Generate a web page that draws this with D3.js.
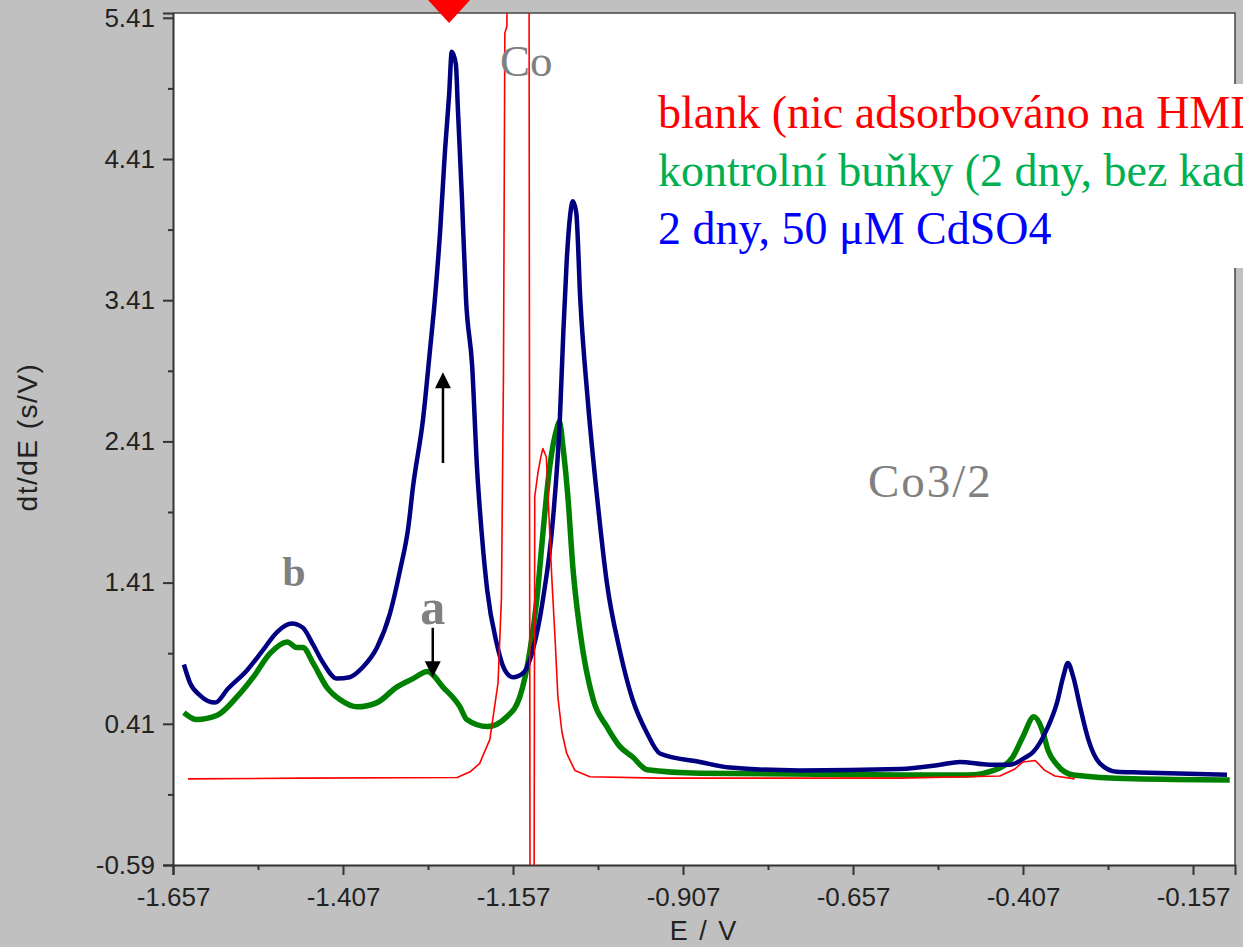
<!DOCTYPE html>
<html>
<head>
<meta charset="utf-8">
<script src="https://cdn.jsdelivr.net/npm/d3@7"></script>
<style>
  body { margin: 0; background: #c0c0c0; }
  svg { display: block; }
</style>
</head>
<body>
<div id="chart"></div>
<script>
// axis ticks
const xTicks = [-1.657, -1.407, -1.157, -0.907, -0.657, -0.407, -0.157]
const yTicks = [-0.59, 0.41, 1.41, 2.41, 3.41, 4.41, 5.41]

// blank (red)
const blankE = [-1.635, -1.470, -1.239, -1.220, -1.206, -1.191, -1.179, -1.174, -1.171, -1.169, -1.166, -1.165,
  -1.1335, -1.132, -1.126, -1.125, -1.120, -1.116, -1.113, -1.108, -1.106, -1.103, -1.100, -1.095, -1.091,
  -1.085, -1.078, -1.066, -1.044, -0.941, -0.588, -0.441, -0.419, -0.407, -0.389, -0.375, -0.360, -0.331]
const blankV = [0.02, 0.025, 0.03, 0.07, 0.13, 0.30, 0.70, 1.30, 2.90, 5.30, 5.35, 6.2,
  6.2, -0.8, -0.8, 2.02, 2.2, 2.3, 2.36, 2.3, 2.1, 1.76, 1.45, 1.0, 0.6,
  0.35, 0.2, 0.08, 0.035, 0.025, 0.025, 0.04, 0.09, 0.14, 0.15, 0.08, 0.04, 0.02]

// kontrolni bunky (green)
const controlE = [-1.641, -1.622, -1.592, -1.563, -1.539, -1.514, -1.489, -1.475, -1.466, -1.451, -1.431, -1.411,
  -1.386, -1.357, -1.328, -1.304, -1.283, -1.260, -1.235, -1.225, -1.195, -1.166, -1.147, -1.132, -1.122,
  -1.113, -1.103, -1.092, -1.089, -1.083, -1.076, -1.069, -1.058, -1.039, -1.019, -1.000, -0.981, -0.960,
  -0.882, -0.588, -0.489, -0.441, -0.422, -0.407, -0.391, -0.379, -0.370, -0.357, -0.333, -0.245, -0.103]
const controlV = [0.49, 0.44, 0.47, 0.60, 0.74, 0.91, 0.99, 0.95, 0.95, 0.84, 0.67, 0.58,
  0.53, 0.56, 0.67, 0.73, 0.78, 0.67, 0.53, 0.44, 0.39, 0.46, 0.60, 0.93, 1.29,
  1.76, 2.23, 2.51, 2.55, 2.35, 2.00, 1.52, 1.05, 0.58, 0.39, 0.25, 0.175, 0.085,
  0.06, 0.047, 0.047, 0.097, 0.175, 0.32, 0.46, 0.37, 0.22, 0.12, 0.047, 0.02, 0.012]

// 2 dny, 50 uM CdSO4 (blue)
const cdE = [-1.641, -1.632, -1.617, -1.595, -1.576, -1.548, -1.525, -1.504, -1.482, -1.466, -1.451, -1.436,
  -1.416, -1.397, -1.378, -1.357, -1.338, -1.323, -1.311, -1.304, -1.289, -1.279, -1.272, -1.264, -1.257,
  -1.251, -1.247, -1.241, -1.238, -1.232, -1.226, -1.217, -1.210, -1.203, -1.195, -1.181, -1.169, -1.157,
  -1.142, -1.128, -1.113, -1.098, -1.088, -1.083, -1.078, -1.073, -1.069, -1.064, -1.058, -1.047, -1.033,
  -1.019, -1.000, -0.981, -0.960, -0.941, -0.882, -0.838, -0.735, -0.588, -0.529, -0.500, -0.456, -0.426,
  -0.404, -0.392, -0.372, -0.357, -0.348, -0.341, -0.333, -0.323, -0.311, -0.294, -0.269, -0.235, -0.107]
const cdV = [0.83, 0.70, 0.61, 0.56, 0.66, 0.79, 0.93, 1.06, 1.12, 1.09, 0.97, 0.84,
  0.73, 0.74, 0.81, 0.95, 1.19, 1.50, 1.80, 2.09, 2.58, 3.06, 3.41, 3.91, 4.47,
  4.86, 5.17, 5.08, 4.76, 4.12, 3.41, 2.94, 2.23, 1.76, 1.36, 0.98, 0.79, 0.74,
  0.77, 0.93, 1.29, 1.87, 2.58, 3.18, 3.69, 4.01, 4.11, 4.03, 3.41, 2.70, 2.00,
  1.41, 0.93, 0.58, 0.345, 0.20, 0.14, 0.10, 0.08, 0.09, 0.12, 0.14, 0.12, 0.12,
  0.17, 0.21, 0.37, 0.56, 0.74, 0.84, 0.74, 0.53, 0.30, 0.13, 0.07, 0.065, 0.05]

const legendLabels = ['blank (nic adsorbováno na HMDE)', 'kontrolní buňky (2 dny, bez kadmia)', '2 dny, 50 μM CdSO4']
const legendColors = ['#ff0000', '#00b050', '#0000ff']

const width = 1243, height = 947
const plot = {left: 173, right: 1235, top: 13, bottom: 865}

const x = d3.scaleLinear()
  .domain([-1.657, -1.657 + (plot.right - plot.left) / 680])
  .range([plot.left, plot.right])
const y = d3.scaleLinear()
  .domain([-0.59, -0.59 + (plot.bottom - plot.top) / 141.2])
  .range([plot.bottom, plot.top])

const svg = d3.select('#chart').append('svg')
  .attr('width', width)
  .attr('height', height)

svg.append('rect')
  .attr('width', width).attr('height', height)
  .attr('fill', '#c0c0c0')

svg.append('rect')
  .attr('x', plot.left).attr('y', plot.top)
  .attr('width', plot.right - plot.left).attr('height', plot.bottom - plot.top)
  .attr('fill', '#fff')

svg.append('clipPath').attr('id', 'clip')
  .append('rect')
  .attr('x', plot.left).attr('y', plot.top)
  .attr('width', plot.right - plot.left).attr('height', plot.bottom - plot.top)

// axes (hyphen minus like the original software)
const fmt = p => d => d.toFixed(p)
const minorX = d3.range(xTicks.length - 1).map(i => (xTicks[i] + xTicks[i + 1]) / 2)
const minorY = d3.range(yTicks.length - 1).map(i => (yTicks[i] + yTicks[i + 1]) / 2)

const xAxis = svg.append('g')
  .attr('transform', `translate(0, ${plot.bottom})`)
  .call(d3.axisBottom(x).tickValues(xTicks).tickFormat(fmt(3)).tickSize(10).tickPadding(6))
svg.append('g')
  .attr('transform', `translate(0, ${plot.bottom})`)
  .call(d3.axisBottom(x).tickValues(minorX).tickFormat('').tickSize(5))
  .call(g => g.select('.domain').remove())

svg.append('g')
  .attr('transform', `translate(${plot.left}, 0)`)
  .call(d3.axisLeft(y).tickValues(yTicks).tickFormat(fmt(2)).tickSize(10).tickPadding(8))
svg.append('g')
  .attr('transform', `translate(${plot.left}, 0)`)
  .call(d3.axisLeft(y).tickValues(minorY).tickFormat('').tickSize(5))
  .call(g => g.select('.domain').remove())

svg.selectAll('.domain').attr('stroke', '#333').attr('stroke-width', 2)
svg.selectAll('.tick line').attr('stroke', '#333').attr('stroke-width', 2)
svg.selectAll('.tick text')
  .attr('fill', '#222')
  .style('font-family', '"Liberation Sans", Arial, sans-serif')
  .style('font-size', '26px')
xAxis.selectAll('.tick text').attr('dy', '0.95em')

// frame top / right
svg.append('path')
  .attr('d', `M${plot.left},${plot.top}H${plot.right}V${plot.bottom}`)
  .attr('fill', 'none')
  .attr('stroke', '#444')
  .attr('stroke-width', 1.5)

// axis titles
svg.append('text')
  .attr('x', (plot.left + plot.right) / 2)
  .attr('y', 940)
  .attr('text-anchor', 'middle')
  .attr('fill', '#222')
  .style('font-family', '"Liberation Sans", Arial, sans-serif')
  .style('font-size', '27px')
  .style('letter-spacing', '2px')
  .text('E / V')
svg.append('text')
  .attr('transform', 'translate(37, 437) rotate(-90)')
  .attr('text-anchor', 'middle')
  .attr('fill', '#222')
  .style('font-family', '"Liberation Sans", Arial, sans-serif')
  .style('font-size', '28px')
  .style('letter-spacing', '1.5px')
  .text('dt/dE (s/V)')

// curves
const series = [
  {E: controlE, V: controlV, color: '#008000', w: 5.5, curve: d3.curveMonotoneX},
  {E: cdE, V: cdV, color: '#000080', w: 4.5, curve: d3.curveMonotoneX},
  {E: blankE, V: blankV, color: '#ff0000', w: 1.6, curve: d3.curveLinear}
]
svg.append('g')
  .attr('clip-path', 'url(#clip)')
  .selectAll('path')
  .data(series)
  .enter().append('path')
  .attr('d', s => d3.line().curve(s.curve).x(d => x(d[0])).y(d => y(d[1]))(d3.zip(s.E, s.V)))
  .attr('fill', 'none')
  .attr('stroke', s => s.color)
  .attr('stroke-width', s => s.w)
  .attr('stroke-linejoin', 'round')

// annotations
const notes = [
  {t: 'Co', E: -1.176, v: 5.0, size: 45, bold: false, anchor: 'start', ls: 0},
  {t: 'Co3/2', E: -0.635, v: 2.016, size: 47, bold: false, anchor: 'start', ls: 2},
  {t: 'b', E: -1.479, v: 1.386, size: 42, bold: true, anchor: 'middle', ls: 0},
  {t: 'a', E: -1.275, v: 1.12, size: 50, bold: true, anchor: 'middle', ls: 0}
]
svg.append('g').selectAll('text')
  .data(notes)
  .enter().append('text')
  .attr('x', d => x(d.E))
  .attr('y', d => y(d.v))
  .attr('text-anchor', d => d.anchor)
  .attr('fill', '#808080')
  .style('font-family', '"Liberation Serif", "Times New Roman", serif')
  .style('font-weight', d => d.bold ? 'bold' : 'normal')
  .style('font-size', d => d.size + 'px')
  .style('letter-spacing', d => d.ls + 'px')
  .text(d => d.t)

const arrows = [
  {E: -1.260, from: 2.257, to: 2.90},
  {E: -1.275, from: 1.09, to: 0.74}
]
arrows.forEach(a => {
  const ax = x(a.E), y0 = y(a.from), y1 = y(a.to)
  const dir = y1 < y0 ? 1 : -1
  svg.append('line')
    .attr('x1', ax).attr('y1', y0)
    .attr('x2', ax).attr('y2', y1 + dir * 12)
    .attr('stroke', '#000').attr('stroke-width', 2.5)
  svg.append('path')
    .attr('d', `M${ax},${y1}L${ax - 8},${y1 + dir * 16}L${ax + 8},${y1 + dir * 16}Z`)
    .attr('fill', '#000')
})

// red marker at top
const mx = x(-1.251)
svg.append('path')
  .attr('d', `M${mx - 21},0L${mx + 21},0L${mx},23Z`)
  .attr('fill', '#ff0000')

// legend box (runs off the right edge, as in the original slide)
const legend = svg.append('g')
legend.append('rect')
  .attr('x', 645).attr('y', 84)
  .attr('width', 600).attr('height', 184)
  .attr('fill', '#fff')
legend.selectAll('text')
  .data(legendLabels)
  .enter().append('text')
  .attr('x', 658)
  .attr('y', (d, i) => 128 + i * 58)
  .attr('fill', (d, i) => legendColors[i])
  .style('font-family', '"Liberation Serif", "Times New Roman", serif')
  .style('font-size', '46px')
  .text(d => d)
</script>
</body>
</html>
